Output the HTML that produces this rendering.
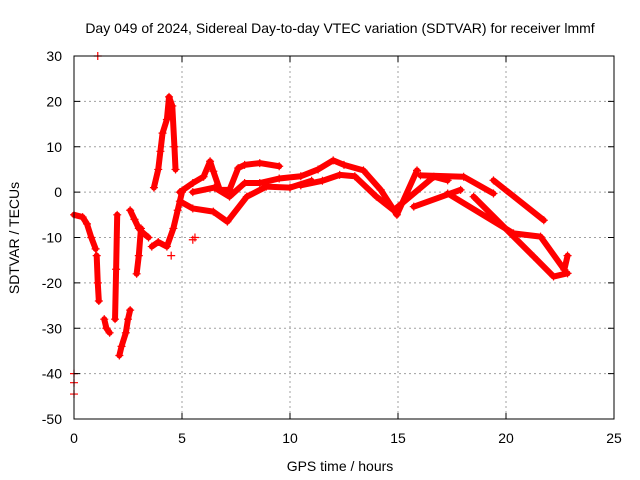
<!DOCTYPE html>
<html><head><meta charset="utf-8"><style>
body{margin:0;background:#fff}
svg{display:block;font-family:"Liberation Sans",sans-serif;font-size:14px}
</style></head><body>
<svg id="c" width="640" height="480" xmlns="http://www.w3.org/2000/svg">
<rect width="640" height="480" fill="#fff"/>
<text x="340" y="33" text-anchor="middle" fill="#000">Day 049 of 2024, Sidereal Day-to-day VTEC variation (SDTVAR) for receiver lmmf</text>
<text x="340" y="471" text-anchor="middle">GPS time / hours</text>
<text transform="translate(19,238) rotate(-90)" text-anchor="middle">SDTVAR / TECUs</text>
<g id="grid"></g><g id="data"></g><g id="axes"></g>
</svg>
<script>
const xTicks=[0,5,10,15,20,25];
const yTicks=[-50,-40,-30,-20,-10,0,10,20,30];
const trackA=[[0,-5],[0.4,-5.5],[0.6,-7],[0.8,-10],[1.0,-12.5]];
const trackA2=[[1.05,-14],[1.1,-20],[1.15,-24]];
const trackB=[[1.4,-28],[1.5,-30],[1.65,-31]];
const trackB2=[[1.9,-28],[1.95,-17],[2.0,-5]];
const trackC=[[2.1,-36],[2.2,-34],[2.4,-31],[2.5,-28],[2.6,-26]];
const trackD=[[2.6,-4],[2.8,-6],[3.0,-8],[3.2,-9],[3.45,-10]];
const trackD2=[[2.9,-18],[3.0,-14],[3.1,-8]];
const trackE=[[3.6,-12],[3.9,-11],[4.3,-12],[4.6,-8],[4.8,-4],[5.0,0]];
const trackF=[[3.7,1],[3.9,5],[4.0,9],[4.1,13],[4.3,16],[4.4,21],[4.55,19],[4.65,10],[4.7,5]];
const trackG=[[4.9,0],[5.5,2],[6.0,3.4],[6.3,6.8],[6.45,4.6],[6.75,0.5],[7.2,0.5],[7.6,5.3],[7.9,6],[8.6,6.4],[9.5,5.7]];
const trackH=[[4.9,-2],[5.5,-3.6],[6.45,-4.3],[7.1,-6.5],[8.0,-1],[8.9,1.2],[10,1],[11,2.5]];
const trackI=[[5.5,0],[6.5,1],[7.2,-1],[7.9,2],[8.6,2],[9.5,3],[10.5,3.5],[11.3,5],[12,7],[12.5,6],[13.4,4.8],[14.2,0.5],[14.95,-5],[15.88,4.8]];
const trackJ=[[10.5,1.5],[11.5,2.5],[12.3,3.8],[13,3.5],[14,-1],[14.8,-4],[16.66,3.4],[17.3,2.6]];
const trackK=[[15.73,-3.2],[17.9,0.5]];
const trackL=[[16.04,3.7],[18.04,3.4],[19.42,-0.3]];
const trackM=[[17.3,-0.3],[20.35,-9.1],[21.6,-9.8],[22.7,-17.1],[22.85,-14]];
const trackN=[[18.5,-1],[21.28,-14.2],[22.2,-18.6],[22.85,-17.9]];
const trackO=[[19.42,2.6],[21.75,-6.2]];
const singles=[[1.1,30],[0,-40],[0,-42],[0,-44.5],[5.6,-10],[5.5,-10.5],[4.5,-14]];
const X=v=>74+v*21.6, Y=v=>56+(30-v)*4.5375;
const ns="http://www.w3.org/2000/svg";
const g=document.getElementById('grid'),d=document.getElementById('data'),a=document.getElementById('axes');
function mk(p,tag,at){const e=document.createElementNS(ns,tag);for(const k in at)e.setAttribute(k,at[k]);p.appendChild(e);return e;}
xTicks.forEach(t=>{
 if(t>0&&t<25){const l=mk(g,'line',{x1:X(t),x2:X(t),y1:56,y2:419,stroke:'#a0a0a0','stroke-dasharray':'2,3'});
 
 }
 const tx=mk(a,'text',{x:X(t),y:443,'text-anchor':'middle'});tx.textContent=t;
 
 
 mk(a,'line',{x1:X(t),x2:X(t),y1:419,y2:413,stroke:'#000'});mk(a,'line',{x1:X(t),x2:X(t),y1:56,y2:62,stroke:'#000'});
});
yTicks.forEach(t=>{
 if(t>-50&&t<30){const l=mk(g,'line',{x1:74,x2:614,y1:Y(t),y2:Y(t),stroke:'#a0a0a0','stroke-dasharray':'2,3'});
 
 }
 const tx=mk(a,'text',{x:62,y:Y(t)+5,'text-anchor':'end'});tx.textContent=t;
 
 
 mk(a,'line',{x1:74,x2:80,y1:Y(t),y2:Y(t),stroke:'#000'});mk(a,'line',{x1:614,x2:608,y1:Y(t),y2:Y(t),stroke:'#000'});
});
const fr=mk(a,'rect',{x:74,y:56,width:540,height:363,fill:'none',stroke:'#000'});


const tracks=[trackA,trackA2,trackB,trackB2,trackC,trackD,trackD2,trackE,trackF,trackG,trackH,trackI,trackJ,trackK,trackL,trackM,trackN,trackO];
tracks.forEach(tr=>{
 const p=mk(d,'polyline',{points:tr.map(q=>X(q[0])+','+Y(q[1])).join(' '),fill:'none',stroke:'#f00','stroke-width':6,'stroke-linejoin':'round','stroke-linecap':'round'});
 
 
});
tracks.concat([singles]).forEach(tr=>tr.forEach(q=>{
 const x=X(q[0]),y=Y(q[1]);
 const m=mk(d,'path',{d:`M${x-4},${y}H${x+4}M${x},${y-4}V${y+4}`,stroke:'#f00','stroke-width':1.2});
 
 
}));
</script>
</body></html>
